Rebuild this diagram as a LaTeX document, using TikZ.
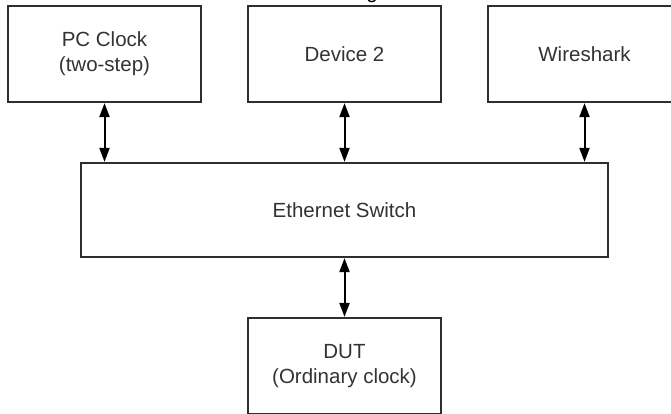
\documentclass[tikz,border=0pt]{standalone}
\usepackage{fontspec}
\setmainfont{Liberation Sans}
\usetikzlibrary{arrows.meta}
\definecolor{edge}{HTML}{2E2E2E}
\definecolor{label}{HTML}{333333}
\tikzset{
  unitbox/.style={draw=edge, line width=2.2pt, fill=white, inner sep=0pt,
    minimum width=193pt, minimum height=96pt, align=center,
    text=label, font=\fontsize{20.5}{25}\selectfont},
  link/.style={draw=black, line width=2pt,
    {Triangle[length=14pt,width=10pt]}-{Triangle[length=14pt,width=10pt]}}
}
\begin{document}
\begin{tikzpicture}[x=1pt, y=-1pt]
  \useasboundingbox (0,0) rectangle (671,413);
  \clip (0,0) rectangle (671,413);
  % tail of the heading above the diagram
  \node[text=black, font=\fontsize{20.5}{25}\selectfont, anchor=base]
    (head) at (372,-2) {g};
  % endpoints
  \node[unitbox] (pc)   at (104.5,54)  {PC Clock\\(two-step)};
  \node[unitbox] (dev)  at (344.5,54)  {Device 2};
  \node[unitbox] (wire) at (584.5,54)  {Wireshark};
  % switch in the middle
  \node[unitbox, minimum width=527pt, minimum height=94pt]
    (sw) at (344.5,210) {Ethernet Switch};
  % device under test
  \node[unitbox] (dut) at (344.5,366) {DUT\\(Ordinary clock)};
  % links to the switch
  \draw[link] (pc.south)   -- (pc.south |- sw.north);
  \draw[link] (dev.south)  -- (dev.south |- sw.north);
  \draw[link] (wire.south) -- (wire.south |- sw.north);
  \draw[link] (sw.south)   -- (dut.north);
\end{tikzpicture}
\end{document}
